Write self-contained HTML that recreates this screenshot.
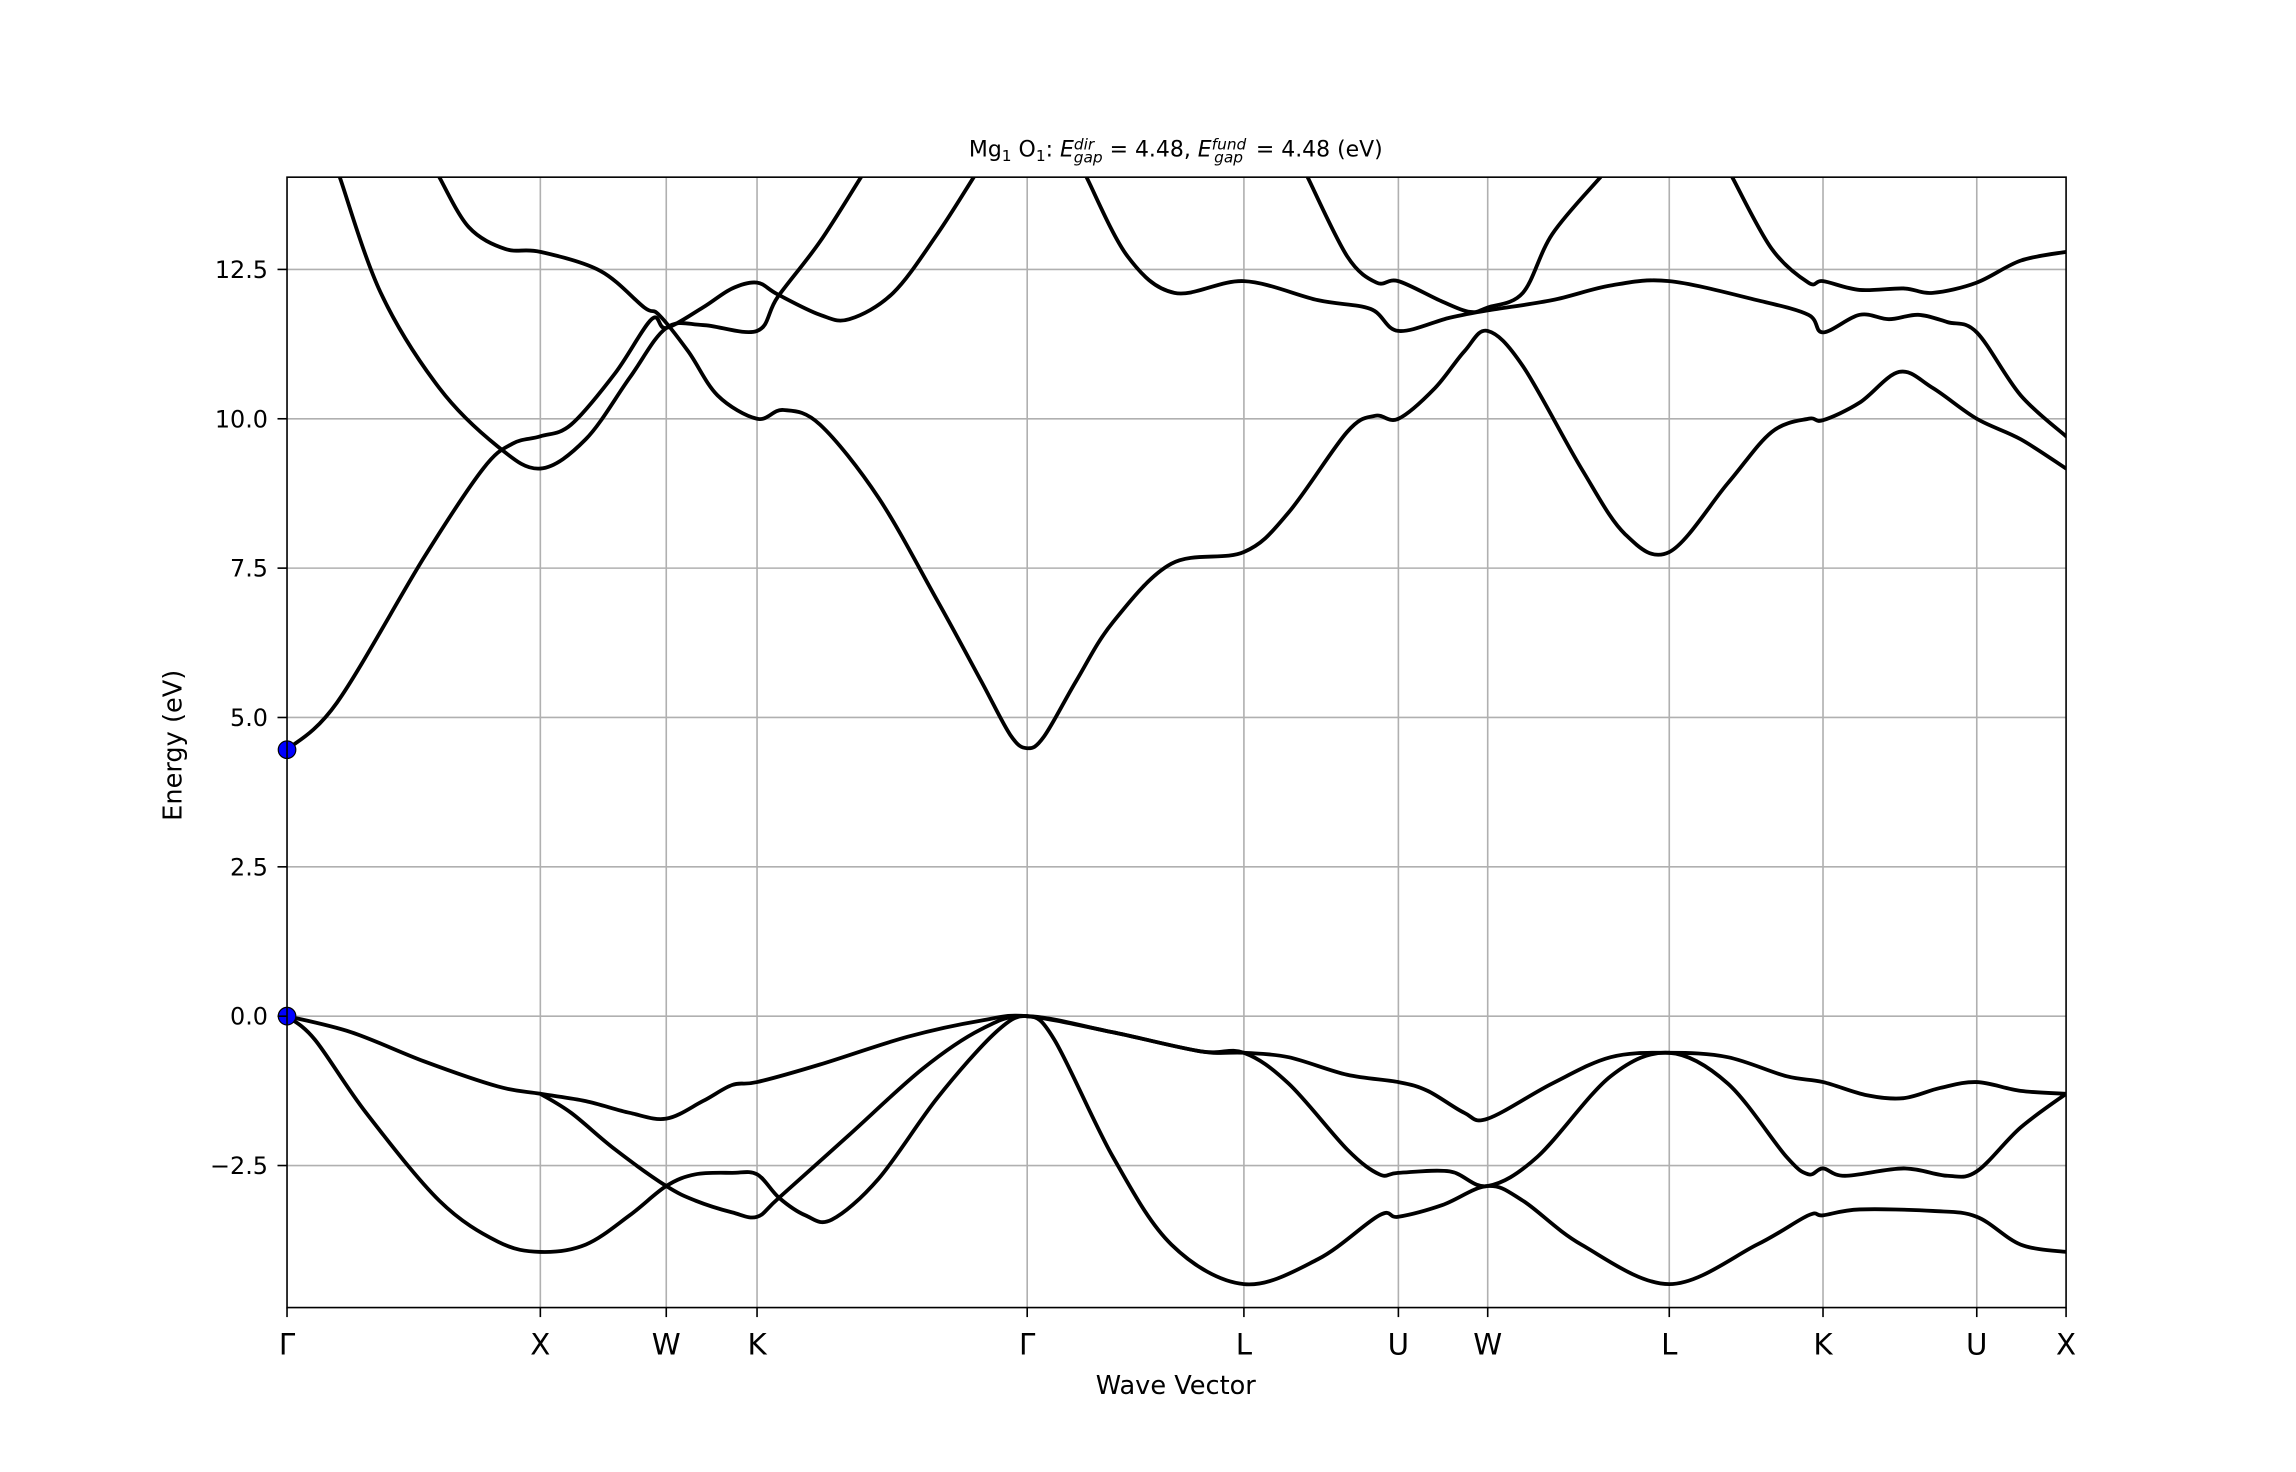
<!DOCTYPE html>
<html><head><meta charset="utf-8"><style>
html,body{margin:0;padding:0;background:#fff;}
svg{display:block;}
text{font-family:"DejaVu Sans","Liberation Sans",sans-serif;fill:#000;}
</style></head><body>
<svg id="s" width="2296" height="1472" viewBox="0 0 1568 1005.3" xmlns="http://www.w3.org/2000/svg">
<defs><clipPath id="c"><rect x="196" y="121" width="1215" height="772"/></clipPath></defs>
<rect width="1568" height="1006" fill="#fff"/>
<g id="grid" stroke="#b0b0b0" stroke-width="1.1"></g>
<g id="bands" clip-path="url(#c)" fill="none" stroke="#000" stroke-width="2.6" stroke-linejoin="round" stroke-linecap="round"></g>
<circle cx="196" cy="512" r="6" fill="#0000ff" stroke="#000" stroke-width="0.8"/>
<circle cx="196" cy="694" r="6" fill="#0000ff" stroke="#000" stroke-width="0.8"/>
<rect x="196" y="121" width="1215" height="772" fill="none" stroke="#000" stroke-width="1.1"/>
<g id="ticks" stroke="#000" stroke-width="1.1"></g>
<g id="ylab" font-size="16.3" text-anchor="end"></g>
<g id="xlab" font-size="20" text-anchor="middle"></g>
<text x="803" y="952" font-size="17.5" text-anchor="middle">Wave Vector</text>
<text transform="translate(124,509) rotate(-90)" font-size="17.5" text-anchor="middle">Energy (eV)</text>
<text x="803" y="107" font-size="15" text-anchor="middle">Mg<tspan font-size="10.5" dy="3">1</tspan><tspan dy="-3"> O</tspan><tspan font-size="10.5" dy="3">1</tspan><tspan dy="-3">: </tspan><tspan font-style="italic">E</tspan><tspan font-size="10.5" font-style="italic" dy="-5">dir</tspan><tspan font-size="10.5" font-style="italic" dx="-14" dy="9">gap</tspan><tspan dy="-4"> = 4.48, </tspan><tspan font-style="italic">E</tspan><tspan font-size="10.5" font-style="italic" dy="-5">fund</tspan><tspan font-size="10.5" font-style="italic" dx="-22" dy="9">gap</tspan><tspan dy="-4" dx="4"> = 4.48 (eV)</tspan></text>
</svg>
<script>
var NS="http://www.w3.org/2000/svg";
function el(p,t,a,txt){var e=document.createElementNS(NS,t);for(var k in a)e.setAttribute(k,a[k]);if(txt!==undefined)e.textContent=txt;document.getElementById(p).appendChild(e);return e;}
var B=893;
var xt=[[196,"Γ"],[369,"X"],[455,"W"],[517,"K"],[701.5,"Γ"],[849.5,"L"],[955,"U"],[1016,"W"],[1140,"L"],[1245,"K"],[1350,"U"],[1411,"X"]];
xt.forEach(function(t){
 if(t[0]>196&&t[0]<1411) el("grid","line",{x1:t[0],x2:t[0],y1:121,y2:B});
 el("ticks","line",{x1:t[0],x2:t[0],y1:B,y2:B+6.5});
 el("xlab","text",{x:t[0],y:925},t[1]);
});
[12.5,10,7.5,5,2.5,0,-2.5].forEach(function(v){
 var y=694-40.8*v;
 el("grid","line",{x1:196,x2:1411,y1:y,y2:y});
 el("ticks","line",{x1:189.5,x2:196,y1:y,y2:y});
 el("ylab","text",{x:183,y:y+5.8},(v<0?"\u2212"+(-v).toFixed(1):v.toFixed(1)));
});
function cr(p){
 var d="M"+p[0][0]+","+p[0][1];
 for(var i=0;i<p.length-1;i++){
  var p0=p[i>0?i-1:i],p1=p[i],p2=p[i+1],p3=p[i+2<p.length?i+2:i+1];
  var c1=[p1[0]+(p2[0]-p0[0])/6,p1[1]+(p2[1]-p0[1])/6],c2=[p2[0]-(p3[0]-p1[0])/6,p2[1]-(p3[1]-p1[1])/6];
  d+="C"+c1[0].toFixed(1)+","+c1[1].toFixed(1)+" "+c2[0].toFixed(1)+","+c2[1].toFixed(1)+" "+p2[0]+","+p2[1];
 }
 el("bands","path",{d:d});
}
var C=[
[[196,694],[240,705],[290,725],[340,742],[369,747],[400,752],[430,760],[455,764],[480,752],[500,741],[517,739],[560,727],[620,708],[670,697],[701.5,694],[760,705],[820,718],[849.5,719],[880,722],[920,734],[955,739],[975,745],[1000,760],[1016,764],[1060,740],[1100,722],[1140,719],[1180,722],[1220,735],[1245,739],[1275,748],[1300,750],[1325,743],[1350,739],[1380,745],[1411,747]],
[[196,694],[215,710],[250,760],[300,820],[340,848],[369,855],[400,850],[430,830],[455,810],[475,802],[500,801],[517,802],[532,818],[550,830],[568,833],[600,805],[640,750],[680,705],[701.5,694],[720,710],[760,790],[800,850],[849.5,877],[900,860],[942,830],[955,831],[985,823],[1016,810],[1040,820],[1080,850],[1140,877],[1200,850],[1235,830],[1245,830],[1270,826],[1320,827],[1350,831],[1380,850],[1411,855]],
[[369,747],[390,760],[420,785],[455,810],[475,820],[500,828],[517,831],[532,818],[580,775],[630,730],[670,703],[701.5,694],[760,705],[820,718],[849.5,719],[880,740],[920,785],[942,802],[955,801],[990,800],[1016,810],[1050,790],[1100,735],[1140,719],[1180,740],[1220,790],[1235,802],[1245,798],[1260,803],[1300,798],[1330,803],[1350,800],[1380,770],[1411,747]],
[[196,512],[230,480],[290,380],[330,320],[350,303],[369,298],[390,290],[420,255],[445,218],[455,224],[480,210],[500,197],[517,193],[531,201],[560,215],[580,218],[610,200],[640,160],[665,121]],
[[232,121],[260,200],[300,265],[340,305],[369,320],[400,300],[430,258],[455,224],[480,222],[517,226],[531,203],[560,165],[588,121]],
[[300,121],[320,155],[345,170],[369,172],[410,185],[440,210],[450,215],[470,240],[490,270],[517,286],[535,280],[560,290],[600,340],[640,410],[670,465],[690,502],[701.5,511],[713,503],[735,465],[760,425],[800,385],[849.5,377],[880,350],[920,295],[939,284],[955,286],[980,265],[1000,240],[1016,226],[1040,250],[1080,320],[1110,365],[1140,377],[1180,330],[1210,295],[1235,286],[1245,287],[1270,275],[1297,254],[1320,265],[1350,286],[1380,300],[1411,320]],
[[742,121],[770,175],[802,200],[849.5,192],[900,205],[936,211],[955,226],[990,217],[1016,212],[1060,205],[1100,195],[1140,192],[1200,205],[1235,215],[1245,227],[1270,215],[1290,218],[1310,215],[1330,220],[1350,227],[1380,270],[1411,298]],
[[893,121],[920,175],[940,193],[955,192],[985,206],[1004,213],[1016,210],[1040,200],[1060,160],[1093,121]],
[[1183,121],[1210,170],[1235,193],[1245,192],[1270,198],[1300,197],[1320,200],[1350,193],[1380,178],[1411,172]]
];
C.forEach(cr);
</script>
</body></html>
